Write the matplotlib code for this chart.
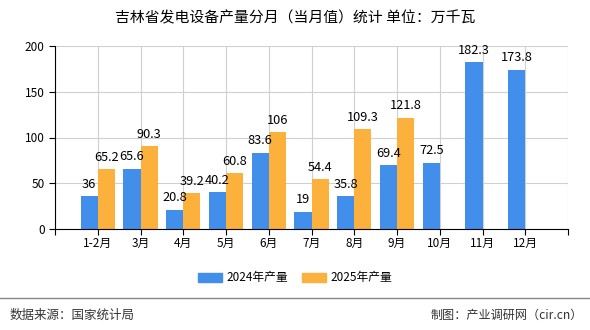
import matplotlib
matplotlib.use("Agg")
import matplotlib.pyplot as plt
import numpy as np

plt.rcParams['font.family'] = ['Noto Sans CJK SC', 'DejaVu Sans']

categories = ["1-2月", "3月", "4月", "5月", "6月", "7月", "8月", "9月", "10月", "11月", "12月"]
values_2024 = [36, 65.6, 20.8, 40.2, 83.6, 19, 35.8, 69.4, 72.5, 182.3, 173.8]
values_2025 = [65.2, 90.3, 39.2, 60.8, 106, 54.4, 109.3, 121.8, None, None, None]
series_names = ["2024年产量", "2025年产量"]
title = "吉林省发电设备产量分月（当月值）统计 单位：万千瓦"
source = "数据来源：国家统计局"
credit = "制图：产业调研网（cir.cn）"

c_blue = "#418EEB"
c_orange = "#FBB13C"

fig = plt.figure(figsize=(5.9, 3.3), dpi=100)
ax = fig.add_axes([55/590, 1-229/330, (568-55)/590, (229-46)/330])

x = np.arange(len(categories))
w = 0.4
for i, v in enumerate(values_2024):
    ax.bar(x[i] - w/2, v, w, color=c_blue, zorder=3)
    ax.text(x[i] - w/2, v + 6, f"{v:g}", ha='center', va='bottom', fontsize=9.2, zorder=4)
for i, v in enumerate(values_2025):
    if v is None:
        continue
    ax.bar(x[i] + w/2, v, w, color=c_orange, zorder=3)
    ax.text(x[i] + w/2, v + 6, f"{v:g}", ha='center', va='bottom', fontsize=9.2, zorder=4)

ax.set_xlim(-1, len(categories))
ax.set_ylim(0, 200)
ax.set_yticks([0, 50, 100, 150, 200])
ticks = list(range(-1, len(categories) + 1))
ax.set_xticks(ticks)
ax.set_xticklabels([""] + categories + [""], fontsize=8.5)
ax.tick_params(axis='y', labelsize=8.5, length=4, width=0.8)
ax.tick_params(axis='x', length=4, width=0.8, pad=2)
ax.grid(True, color="#d0d0d0", linewidth=0.8, zorder=0)
for s in ['top', 'right']:
    ax.spines[s].set_visible(False)
for s in ['left', 'bottom']:
    ax.spines[s].set_color('black')
    ax.spines[s].set_linewidth(0.8)
    ax.spines[s].set_zorder(5)

fig.text(0.5, 1-18/330, title, ha='center', va='center', fontsize=10.7)

from matplotlib.patches import Patch
handles = [Patch(color=c_blue, label=series_names[0]), Patch(color=c_orange, label=series_names[1])]
fig.legend(handles=handles, loc='center', bbox_to_anchor=(0.5, 1-278/330), ncol=2, frameon=False,
           fontsize=8.5, handlelength=2.0, handleheight=0.8, columnspacing=1.2, handletextpad=0.4)

fig.add_artist(plt.Line2D([0, 1], [1-298/330, 1-298/330], color='#888888', linewidth=1, transform=fig.transFigure))
fig.text(10/590, 1-315/330, source, ha='left', va='center', fontsize=9, color='#333333')
fig.text(1-7/590, 1-315/330, credit, ha='right', va='center', fontsize=8.7, color='#333333')

fig.savefig("out.png", dpi=100)
